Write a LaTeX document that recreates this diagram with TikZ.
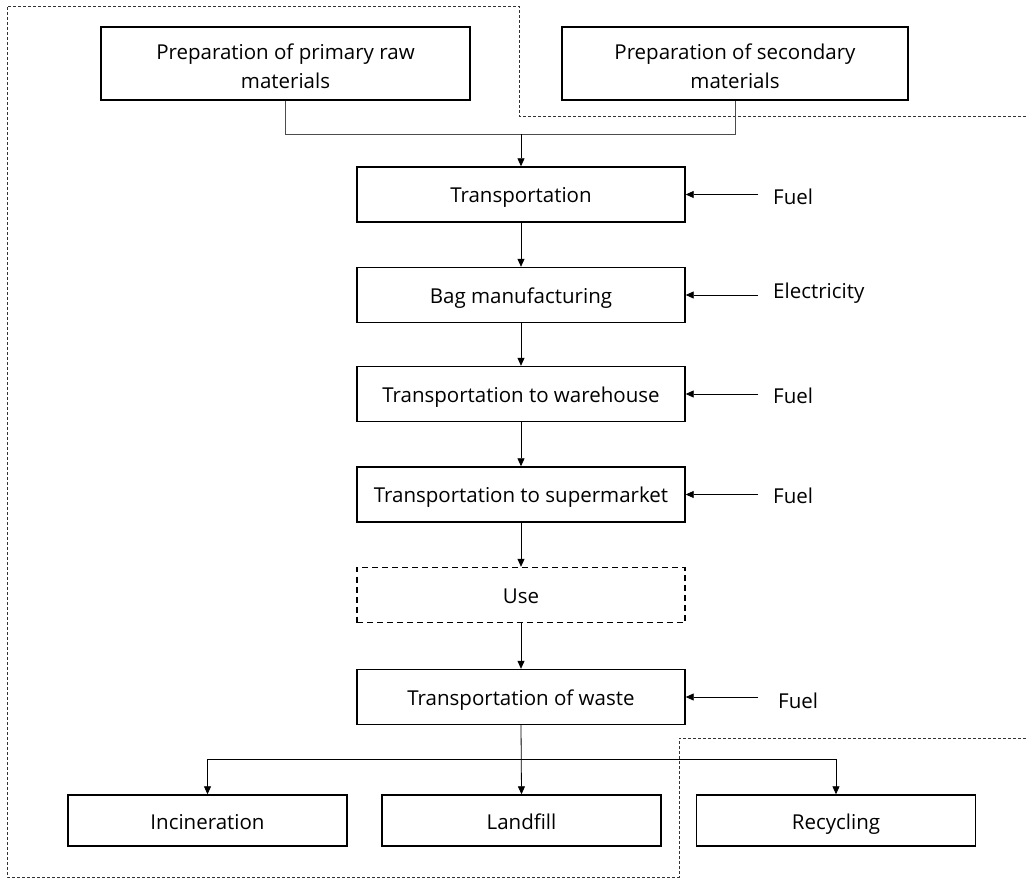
\documentclass[tikz,border=0pt]{standalone}
\usepackage{fontspec}
\setmainfont{Open Sans}
\usetikzlibrary{arrows.meta}
\begin{document}
\begin{tikzpicture}[x=1pt,y=-1pt,
  font=\fontsize{20.5}{29}\selectfont,
  stepbox/.style={draw=black,line width=1.4pt,minimum width=328pt,minimum height=55pt,inner sep=0pt,align=center,text height=18pt,text depth=1pt},
  endbox/.style={draw=black,line width=1.4pt,minimum width=279pt,minimum height=51pt,inner sep=0pt,text height=18pt,text depth=1pt},
  topbox/.style={draw=black,line width=1.4pt,minimum height=73pt,inner sep=0pt},
  toptext/.style={align=center,yshift=-3pt,inner sep=0pt},
  flow/.style={draw=black,line width=0.8pt,-{Triangle[length=8pt,width=7pt]}},
  feed/.style={draw=black!70,line width=0.8pt},
  bound/.style={draw=black!80,line width=0.8pt,dash pattern=on 3pt off 2pt},
  inlabel/.style={anchor=west,inner sep=0pt,text height=18pt,text depth=1pt}]
\useasboundingbox (0,0) rectangle (1026,882);

% system boundaries
\draw[bound] (1026,116) -- (519,116) -- (519,6) -- (7,6) -- (7,877) -- (679,877) -- (679,738) -- (1026,738);

% raw material preparation
\node[topbox,minimum width=369pt,label={[toptext]center:Preparation of primary raw\\materials}] (prim) at (285.5,63.5) {};
\node[topbox,minimum width=346pt,label={[toptext]center:Preparation of secondary\\materials}] (sec) at (735,63.5) {};

% main process chain
\node[stepbox] (tr) at (521,194.5) {Transportation};
\node[stepbox] (bag) at (521,295) {Bag manufacturing};
\node[stepbox] (wh) at (521,394) {Transportation to warehouse};
\node[stepbox] (sm) at (521,494.5) {Transportation to supermarket};
\node[stepbox,dash pattern=on 6pt off 4pt] (use) at (521,595) {Use};
\node[stepbox] (waste) at (521,697) {Transportation of waste};

% end of life
\node[endbox] (inc) at (207.5,820.5) {Incineration};
\node[endbox] (land) at (521.5,820.5) {Landfill};
\node[endbox] (rec) at (836,820.5) {Recycling};

% inputs
\node[inlabel] (f1) at (773,196) {Fuel};
\node[inlabel] (el) at (773,290) {Electricity};
\node[inlabel] (f2) at (773,395) {Fuel};
\node[inlabel] (f3) at (773,495) {Fuel};
\node[inlabel] (f4) at (778,700) {Fuel};

\draw[flow] (758,0 |- tr.east) -- (tr.east);
\draw[flow] (758,0 |- bag.east) -- (bag.east);
\draw[flow] (758,0 |- wh.east) -- (wh.east);
\draw[flow] (758,0 |- sm.east) -- (sm.east);
\draw[flow] (758,0 |- waste.east) -- (waste.east);

% joining of the two material streams
\coordinate (join) at (521,134);
\draw[feed] (prim.south) -- (prim.south |- join) -- (sec.south |- join) -- (sec.south);
\draw[flow] (join) -- (tr.north);

\draw[flow] (tr) -- (bag);
\draw[flow] (bag) -- (wh);
\draw[flow] (wh) -- (sm);
\draw[flow] (sm) -- (use);
\draw[flow] (use) -- (waste);

% distribution to waste treatment
\coordinate (split) at (521,759);
\draw[flow] (waste.south) -- (land.north);
\draw[flow] (inc.north |- split) -- (rec.north |- split) -- (rec.north);
\draw[flow] (split) -- (inc.north |- split) -- (inc.north);
\end{tikzpicture}
\end{document}
